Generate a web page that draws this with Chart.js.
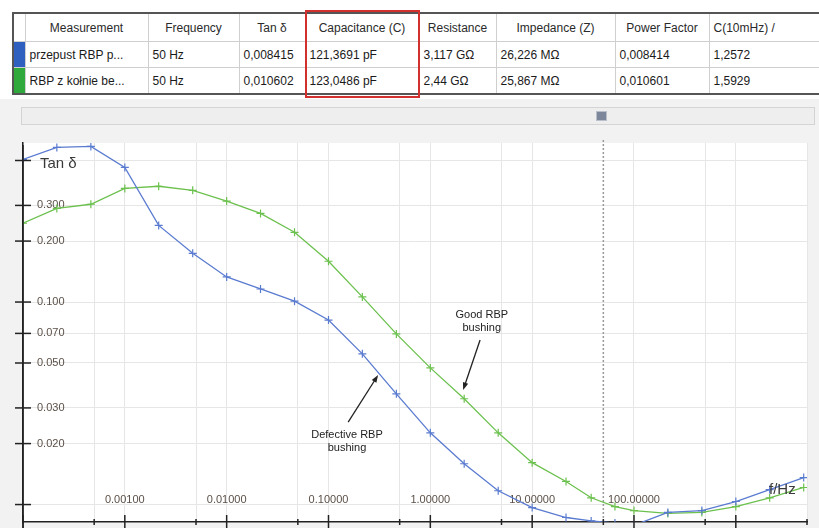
<!DOCTYPE html>
<html lang="pl">
<head>
<meta charset="UTF-8">
<title>Tan δ – przepust RBP</title>
<script src="https://cdn.jsdelivr.net/npm/chart.js"></script>
<style>
    body {
        margin: 0;
        width: 819px;
        height: 528px;
        overflow: hidden;
        position: relative;
        background: #fff;
        font-family: "Liberation Sans", Arial, sans-serif;
    }

    /* tabela pomiarow */
    .meas {
        position: absolute;
        left: 12px;
        top: 12px;
        width: 807px;
        border-collapse: collapse;
        table-layout: fixed;
        font-size: 12px;
        color: #1a1a1a;
        border-top: 2px solid #555;
        border-bottom: 2px solid #555;
        border-left: 2px solid #555;
    }
    .meas th, .meas td {
        border: 1px solid #cfcfcf;
        padding: 0 4px;
        white-space: nowrap;
        overflow: hidden;
        font-weight: normal;
    }
    .meas th { height: 27px; text-align: center; color: #2a2a2a; }
    .meas td { height: 25px; text-align: left; }
    .meas th.l { text-align: left; }
    .meas td.sw { padding: 0; }
    .sw.blue { background: #2f5fbf; }
    .sw.green { background: #2fa83c; }

    .redbox {
        position: absolute;
        left: 305px;
        top: 10px;
        width: 115px;
        height: 88px;
        box-sizing: border-box;
        border: 2px solid #d22f2f;
    }

    .panel {
        position: absolute;
        left: 0;
        top: 99px;
        width: 819px;
        height: 429px;
        background: #f2f2f2;
    }
    .scroll {
        position: absolute;
        left: 21px;
        top: 107px;
        width: 794px;
        height: 18px;
        box-sizing: border-box;
        background: #eeeeee;
        border: 1px solid #d4d4d4;
    }
    .thumb {
        position: absolute;
        left: 596px;
        top: 111px;
        width: 11px;
        height: 10px;
        background: #7d879b;
        border: 1px solid #b9bfcb;
        box-sizing: border-box;
    }
    .chart-box {
        position: absolute;
        left: 0;
        top: 128px;
        width: 819px;
        height: 400px;
    }
</style>
</head>
<body>
    <table class="meas">
        <colgroup>
            <col style="width:12px"><col style="width:123px"><col style="width:91px"><col style="width:66px">
            <col style="width:114px"><col style="width:77px"><col style="width:119px"><col style="width:94px"><col style="width:111px">
        </colgroup>
        <tr>
            <th></th><th>Measurement</th><th>Frequency</th><th>Tan δ</th><th>Capacitance (C)</th>
            <th>Resistance</th><th>Impedance (Z)</th><th>Power Factor</th><th class="l">C(10mHz) /</th>
        </tr>
        <tr>
            <td class="sw blue"></td><td>przepust RBP p...</td><td>50 Hz</td><td>0,008415</td><td>121,3691 pF</td>
            <td>3,117 GΩ</td><td>26,226 MΩ</td><td>0,008414</td><td>1,2572</td>
        </tr>
        <tr>
            <td class="sw green"></td><td>RBP z kołnie be...</td><td>50 Hz</td><td>0,010602</td><td>123,0486 pF</td>
            <td>2,44 GΩ</td><td>25,867 MΩ</td><td>0,010601</td><td>1,5929</td>
        </tr>
    </table>
    <div class="redbox"></div>

    <div class="panel"></div>
    <div class="scroll"></div>
    <div class="thumb"></div>
    <div class="chart-box"><canvas id="tanChart"></canvas></div>

<script>
    // czestotliwosci pomiaru [Hz]
    const freqHz = [0.0001, 0.000215, 0.000464, 0.001, 0.00215, 0.00464, 0.01, 0.0215, 0.0464,
                    0.1, 0.215, 0.464, 1, 2.15, 4.64, 10, 21.5, 38, 65, 100, 215, 464, 1000, 2150, 4640];

    // tan delta - przepust uszkodzony (niebieski)
    const tanDefective = [0.506, 0.580, 0.587, 0.462, 0.239, 0.174, 0.133, 0.116, 0.101,
                          0.0815, 0.0555, 0.0352, 0.0226, 0.0159, 0.0117, 0.00966, 0.00863, 0.0083, 0.0081,
                          0.0079, 0.00914, 0.00934, 0.01035, 0.01186, 0.01359];

    // tan delta - przepust dobry (zielony)
    const tanGood = [0.245, 0.290, 0.304, 0.364, 0.373, 0.356, 0.315, 0.274, 0.221,
                     0.159, 0.106, 0.0696, 0.0473, 0.0333, 0.0226, 0.0161, 0.0130, 0.0108, 0.00977,
                     0.00934, 0.00904, 0.00914, 0.00977, 0.0108, 0.01214];

    // podzialka osi
    const xTicks = [0.0001, 0.0005, 0.001, 0.005, 0.01, 0.05, 0.1, 0.5, 1, 5, 10, 50, 100, 500, 1000, 5000];
    const xLabelled = [0.001, 0.01, 0.1, 1, 10, 100];
    const yTicks = [0.01, 0.02, 0.03, 0.05, 0.07, 0.1, 0.2, 0.3, 0.5];
    const yLabelled = [0.02, 0.03, 0.05, 0.07, 0.1, 0.2, 0.3];
    const markFreq = 50; // linia przerywana 50 Hz

    const notes = [
        { text: ['Good RBP', 'bushing'], at: [3.2, 0.0806], from: [3.08, 0.0649], to: [2.10, 0.0368] },
        { text: ['Defective RBP', 'bushing'], at: [0.152, 0.0206], from: [0.156, 0.0255], to: [0.307, 0.0436] }
    ];

    const toPoints = (ys) => freqHz.map((f, i) => ({ x: f, y: ys[i] }));
    const near = (a, b) => Math.abs(Math.log10(a) - Math.log10(b)) < 1e-6;

    // tlo, linia 50 Hz, znaczniki osi, opisy
    const frameBits = {
        id: 'frameBits',
        beforeDraw(chart) {
            const { ctx, chartArea: a } = chart;
            ctx.save();
            ctx.fillStyle = '#ffffff';
            ctx.fillRect(a.left, a.top, a.right - a.left, a.bottom - a.top);
            ctx.restore();
        },
        beforeDatasetsDraw(chart) {
            const { ctx, chartArea: a, scales } = chart;
            const x = scales.x.getPixelForValue(markFreq);
            ctx.save();
            ctx.strokeStyle = '#9a9a9a';
            ctx.lineWidth = 1.5;
            ctx.setLineDash([2, 2]);
            ctx.beginPath();
            ctx.moveTo(x, a.top - 3);
            ctx.lineTo(x, a.bottom);
            ctx.stroke();
            ctx.restore();
        },
        afterDraw(chart) {
            const { ctx, chartArea: a, scales } = chart;
            ctx.save();
            ctx.strokeStyle = '#222';
            ctx.lineWidth = 1.5;
            // os Y wydluzona w dol
            ctx.beginPath();
            ctx.moveTo(a.left, a.top + 2);
            ctx.lineTo(a.left, 528);
            ctx.stroke();
            scales.y.ticks.forEach(t => {
                const y = scales.y.getPixelForValue(t.value);
                ctx.beginPath();
                ctx.moveTo(a.left - 8, y);
                ctx.lineTo(a.left + 8, y);
                ctx.stroke();
            });
            scales.x.ticks.forEach(t => {
                const x = scales.x.getPixelForValue(t.value);
                const dec = near(t.value, Math.pow(10, Math.round(Math.log10(t.value))));
                ctx.beginPath();
                ctx.moveTo(x, a.bottom - (dec ? 7 : 3));
                ctx.lineTo(x, a.bottom + (dec ? 6 : 3));
                ctx.stroke();
            });

            // tytuly osi
            ctx.fillStyle = '#3a3a3a';
            ctx.font = '15px "Liberation Sans", Arial, sans-serif';
            ctx.textBaseline = 'middle';
            ctx.textAlign = 'left';
            ctx.fillText('Tan δ', a.left + 17, scales.y.getPixelForValue(0.5) + 3);
            ctx.fillText('f/Hz', a.right - 38, a.bottom - 32);

            // adnotacje ze strzalkami
            ctx.fillStyle = '#222';
            ctx.font = '11px "Liberation Sans", Arial, sans-serif';
            ctx.textAlign = 'center';
            notes.forEach(n => {
                const cx = scales.x.getPixelForValue(n.at[0]);
                const cy = scales.y.getPixelForValue(n.at[1]);
                ctx.fillText(n.text[0], cx, cy - 6);
                ctx.fillText(n.text[1], cx, cy + 7);
                const x1 = scales.x.getPixelForValue(n.from[0]), y1 = scales.y.getPixelForValue(n.from[1]);
                const x2 = scales.x.getPixelForValue(n.to[0]), y2 = scales.y.getPixelForValue(n.to[1]);
                const ang = Math.atan2(y2 - y1, x2 - x1);
                ctx.strokeStyle = '#222';
                ctx.lineWidth = 1.3;
                ctx.beginPath();
                ctx.moveTo(x1, y1);
                ctx.lineTo(x2 - 5 * Math.cos(ang), y2 - 5 * Math.sin(ang));
                ctx.stroke();
                ctx.beginPath();
                ctx.moveTo(x2, y2);
                ctx.lineTo(x2 - 8 * Math.cos(ang - 0.35), y2 - 8 * Math.sin(ang - 0.35));
                ctx.lineTo(x2 - 8 * Math.cos(ang + 0.35), y2 - 8 * Math.sin(ang + 0.35));
                ctx.closePath();
                ctx.fill();
            });
            ctx.restore();
        }
    };

    const ctx = document.getElementById('tanChart').getContext('2d');
    new Chart(ctx, {
        type: 'scatter',
        data: {
            datasets: [
                {
                    label: 'przepust RBP',
                    data: toPoints(tanDefective),
                    showLine: true,
                    borderColor: '#5a7bd0',
                    backgroundColor: '#5a7bd0',
                    borderWidth: 1.3,
                    pointStyle: 'cross',
                    pointRadius: 4,
                    pointBorderWidth: 1.2
                },
                {
                    label: 'RBP z kołnie',
                    data: toPoints(tanGood),
                    showLine: true,
                    borderColor: '#6cc14e',
                    backgroundColor: '#6cc14e',
                    borderWidth: 1.3,
                    pointStyle: 'cross',
                    pointRadius: 4,
                    pointBorderWidth: 1.2
                }
            ]
        },
        options: {
            responsive: true,
            maintainAspectRatio: false,
            animation: false,
            layout: { padding: { left: 23, top: 15, right: 12, bottom: 6 } },
            plugins: { legend: { display: false }, tooltip: { enabled: false } },
            scales: {
                x: {
                    type: 'logarithmic',
                    min: 0.0001,
                    max: 5000,
                    afterBuildTicks: (axis) => { axis.ticks = xTicks.map(v => ({ value: v })); },
                    afterFit: (axis) => { axis.height = 0; axis.paddingLeft = 0; axis.paddingRight = 0; },
                    border: { display: true, color: '#222', width: 1.5 },
                    grid: {
                        drawTicks: false,
                        color: (c) => (c.tick && near(c.tick.value, markFreq)) ? 'rgba(0,0,0,0)' : '#e6e6e6'
                    },
                    ticks: {
                        mirror: true,
                        padding: 15,
                        autoSkip: false,
                        maxRotation: 0,
                        color: '#5b5048',
                        font: { size: 11, family: '"Liberation Sans", Arial, sans-serif' },
                        callback: (v) => xLabelled.some(l => near(l, v)) ? Number(v).toFixed(5) : ''
                    }
                },
                y: {
                    type: 'logarithmic',
                    min: 0.0082,
                    max: 0.61,
                    afterBuildTicks: (axis) => { axis.ticks = yTicks.map(v => ({ value: v })); },
                    afterFit: (axis) => { axis.width = 0; axis.paddingTop = 0; axis.paddingBottom = 0; },
                    border: { display: true, color: '#222', width: 1.5 },
                    grid: { drawTicks: false, color: '#e6e6e6' },
                    ticks: {
                        mirror: true,
                        padding: 14,
                        autoSkip: false,
                        color: '#5b5048',
                        font: { size: 11, family: '"Liberation Sans", Arial, sans-serif' },
                        callback: (v) => yLabelled.some(l => near(l, v)) ? Number(v).toFixed(3) : ''
                    }
                }
            }
        },
        plugins: [frameBits]
    });
</script>
</body>
</html>
